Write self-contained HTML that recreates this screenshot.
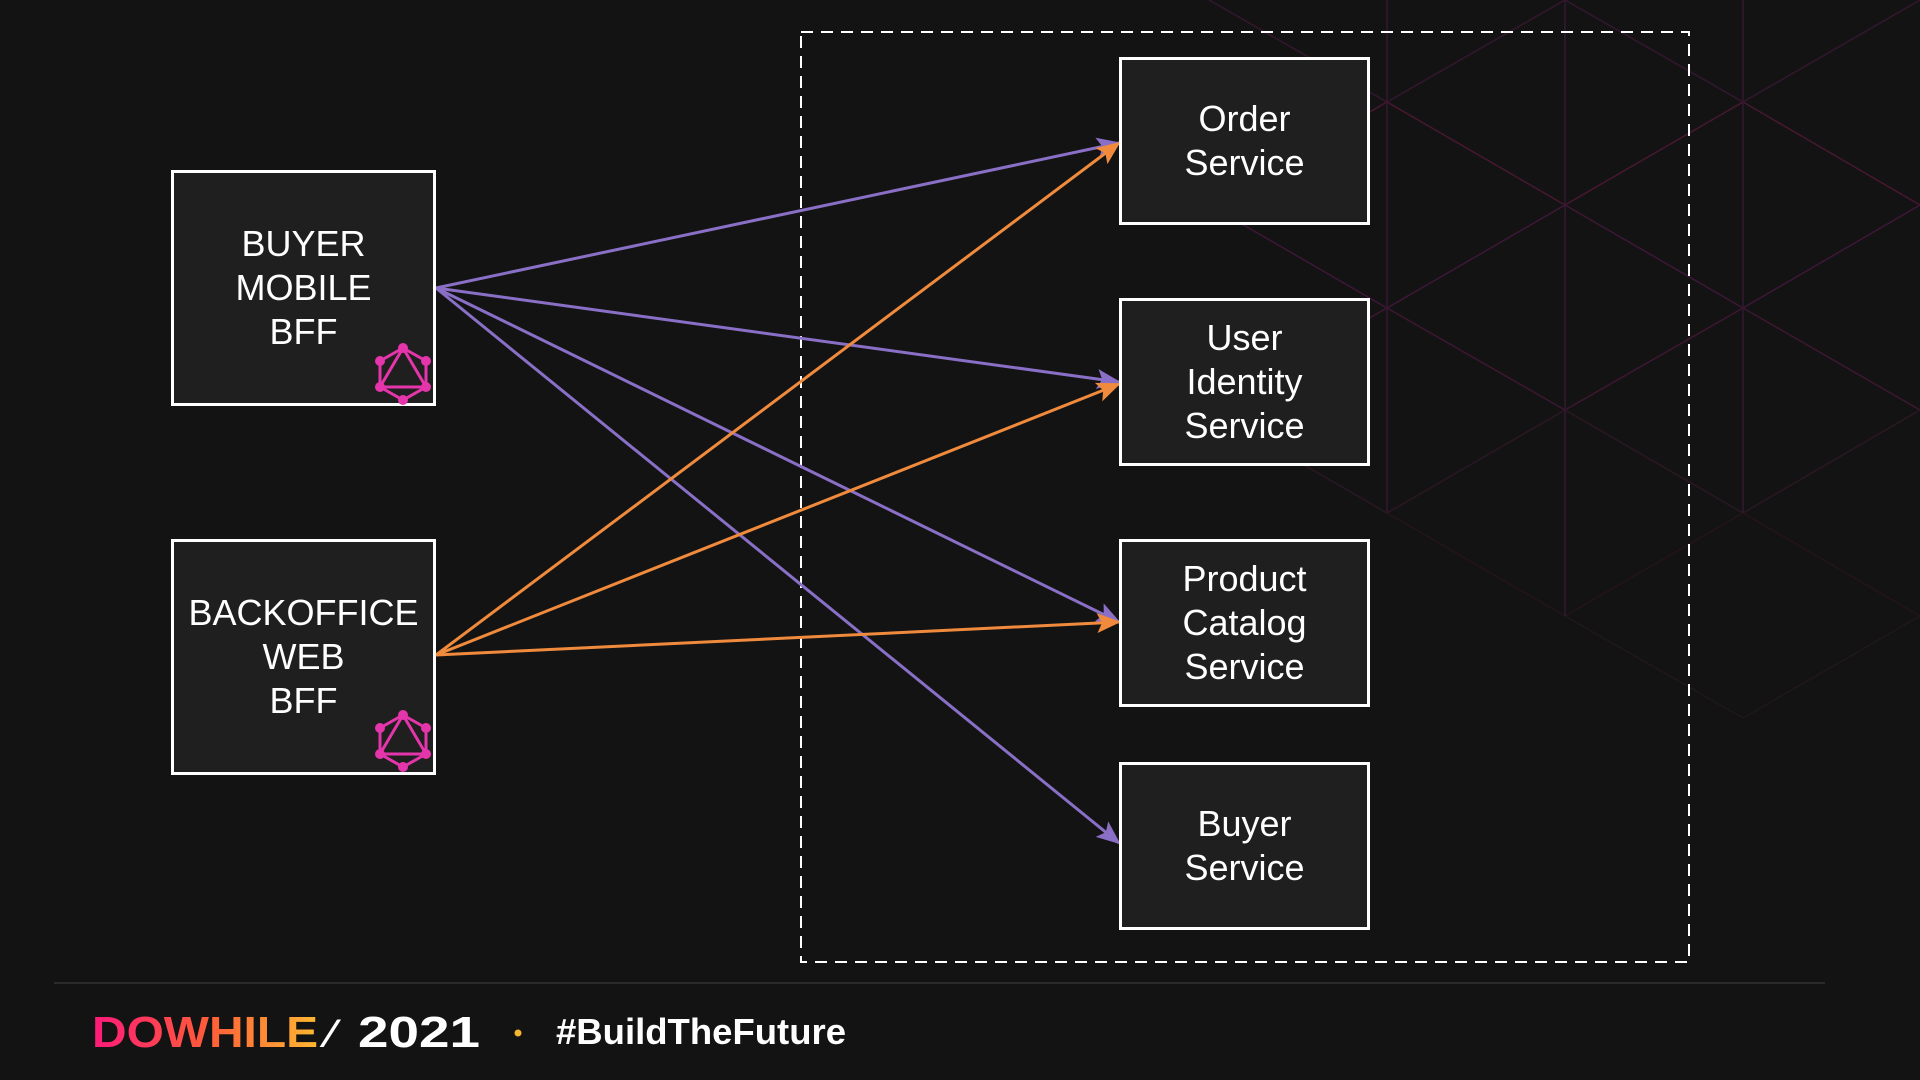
<!DOCTYPE html>
<html><head><meta charset="utf-8"><style>
html,body{margin:0;padding:0;background:#131313;}
body{width:1920px;height:1080px;overflow:hidden;position:relative;font-family:"Liberation Sans",sans-serif;}
.box{position:absolute;background:#1f1f1f;border:3px solid #fff;box-sizing:border-box;color:#fff;font-size:36px;line-height:44px;text-align:center;display:flex;align-items:center;justify-content:center;}
</style></head><body>
<svg width="1920" height="1080" style="position:absolute;left:0;top:0">
<defs>
<marker id="ap" markerWidth="24" markerHeight="20" refX="22" refY="10" orient="auto" markerUnits="userSpaceOnUse"><path d="M0,0 L24,10 L0,20 L5,10 z" fill="#8a6fc7"/></marker>
<marker id="ao" markerWidth="24" markerHeight="20" refX="22" refY="10" orient="auto" markerUnits="userSpaceOnUse"><path d="M0,0 L24,10 L0,20 L5,10 z" fill="#f08a3c"/></marker>
</defs>
<g stroke-width="1.5" fill="none" opacity="0.6">
<path d="M1209,0 L1387,102 L1565,0 L1743,102 L1920,0" stroke="#4a1a40"/>
<path d="M1209,205 L1387,102 L1565,205 L1743,102 L1920,205" stroke="#6a1a45"/>
<path d="M1209,205 L1387,308 L1565,205 L1743,308 L1920,205" stroke="#5a1a50"/>
<path d="M1209,410 L1387,308 L1565,410 L1743,308 L1920,410" stroke="#5a1a45"/>
<path d="M1209,410 L1387,513 L1565,410 L1743,513 L1920,410" stroke="#3a1a30"/>
<path d="M1387,513 L1565,616 L1743,513 L1920,616" stroke="#2e1520"/>
<path d="M1565,616 L1743,718 L1920,616" stroke="#2a1a1f"/>
<path d="M1387,0 V513 M1565,0 V616 M1743,0 V513" stroke="#4a1a45"/>
</g>
<rect x="801" y="32" width="888" height="930" fill="none" stroke="#fff" stroke-width="2" stroke-dasharray="12,8"/>
<line x1="54" y1="983" x2="1825" y2="983" stroke="#2a2a2a" stroke-width="2"/>
<g stroke-width="3">
<line x1="436" y1="288" x2="1119" y2="143" stroke="#8a6fc7" marker-end="url(#ap)"/>
<line x1="436" y1="288" x2="1119" y2="382" stroke="#8a6fc7" marker-end="url(#ap)"/>
<line x1="436" y1="288" x2="1119" y2="622" stroke="#8a6fc7" marker-end="url(#ap)"/>
<line x1="436" y1="288" x2="1119" y2="843" stroke="#8a6fc7" marker-end="url(#ap)"/>
<line x1="436" y1="655" x2="1119" y2="143" stroke="#f08a3c" marker-end="url(#ao)"/>
<line x1="436" y1="655" x2="1119" y2="384" stroke="#f08a3c" marker-end="url(#ao)"/>
<line x1="436" y1="655" x2="1119" y2="622" stroke="#f08a3c" marker-end="url(#ao)"/>
</g>
</svg>
<div class="box" style="left:171px;top:170px;width:265px;height:236px;">BUYER<br>MOBILE<br>BFF</div>
<div class="box" style="left:171px;top:539px;width:265px;height:236px;">BACKOFFICE<br>WEB<br>BFF</div>
<div class="box" style="left:1119px;top:57px;width:251px;height:168px;">Order<br>Service</div>
<div class="box" style="left:1119px;top:298px;width:251px;height:168px;">User<br>Identity<br>Service</div>
<div class="box" style="left:1119px;top:539px;width:251px;height:168px;">Product<br>Catalog<br>Service</div>
<div class="box" style="left:1119px;top:762px;width:251px;height:168px;">Buyer<br>Service</div>
<svg width="1920" height="1080" style="position:absolute;left:0;top:0;pointer-events:none">
<g id="g1">
<g stroke="#e535ab" stroke-width="3" fill="none">
<polygon points="403,348 426,361 426,387 403,400 380,387 380,361"/>
<polygon points="403,348 426,387 380,387"/>
</g>
<g fill="#e535ab">
<circle cx="403" cy="348" r="5"/><circle cx="426" cy="361" r="5"/><circle cx="426" cy="387" r="5"/><circle cx="403" cy="400" r="5"/><circle cx="380" cy="387" r="5"/><circle cx="380" cy="361" r="5"/>
</g>
</g>
<g transform="translate(0,367)">
<g stroke="#e535ab" stroke-width="3" fill="none">
<polygon points="403,348 426,361 426,387 403,400 380,387 380,361"/>
<polygon points="403,348 426,387 380,387"/>
</g>
<g fill="#e535ab">
<circle cx="403" cy="348" r="5"/><circle cx="426" cy="361" r="5"/><circle cx="426" cy="387" r="5"/><circle cx="403" cy="400" r="5"/><circle cx="380" cy="387" r="5"/><circle cx="380" cy="361" r="5"/>
</g>
</g>
<defs><linearGradient id="dw" x1="0" x2="1"><stop offset="0" stop-color="#ff1a7a"/><stop offset="0.5" stop-color="#ff5a3a"/><stop offset="1" stop-color="#ffb830"/></linearGradient></defs>
<text x="92" y="1047" font-family="Liberation Sans,sans-serif" font-weight="bold" font-size="44" fill="url(#dw)" textLength="226" lengthAdjust="spacingAndGlyphs">DOWHILE</text>
<text x="327" y="1047" font-family="Liberation Sans,sans-serif" font-weight="bold" font-size="40" fill="#fff">⁄</text>
<text x="358" y="1047" font-family="Liberation Sans,sans-serif" font-weight="bold" font-size="44" fill="#fff" textLength="122" lengthAdjust="spacingAndGlyphs">2021</text>
<circle cx="518" cy="1033" r="3.5" fill="#f5b731"/>
<text x="556" y="1044" font-family="Liberation Sans,sans-serif" font-weight="bold" font-size="36" fill="#fff" textLength="290" lengthAdjust="spacingAndGlyphs">#BuildTheFuture</text>
</svg>
</body></html>
